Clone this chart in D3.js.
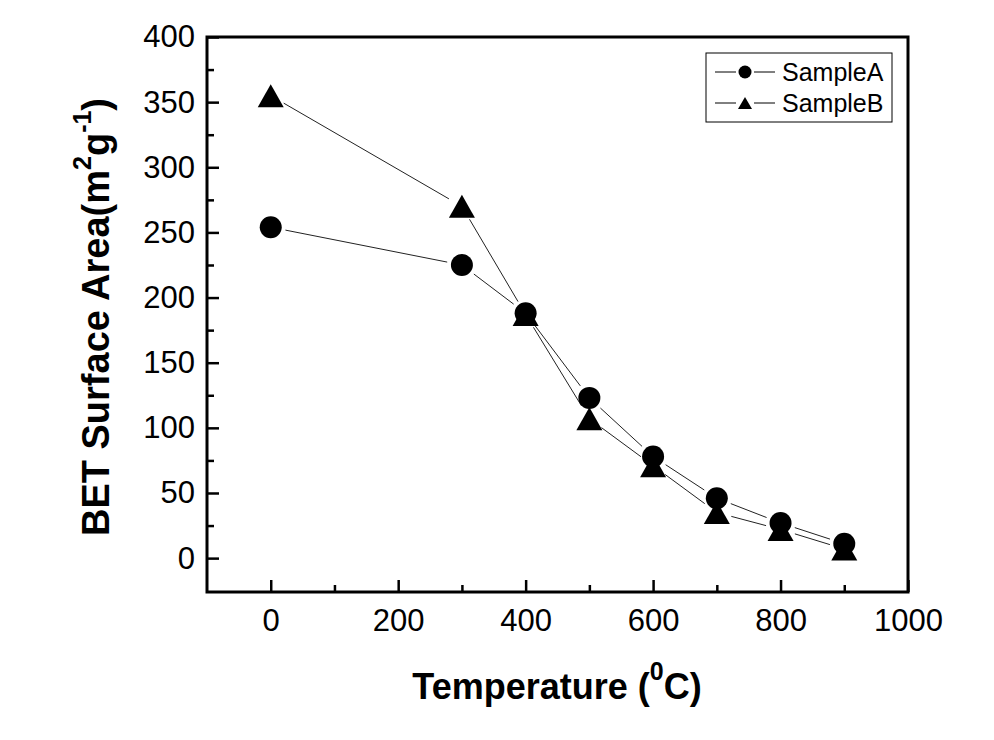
<!DOCTYPE html>
<html>
<head>
<meta charset="utf-8">
<script src="https://cdn.jsdelivr.net/npm/d3@7"></script>
<style>
  body { margin: 0; background: #fff; }
  svg { display: block; }
  text { font-family: "Liberation Sans", Arial, Helvetica, sans-serif; fill: #000; }
</style>
</head>
<body>
<svg id="chart" width="994" height="740"></svg>
<script>
// ---- data ----
const temperatures = [0, 300, 400, 500, 600, 700, 800, 900];
const sampleA = [254, 225, 188, 123, 78, 46, 27, 11];
const sampleB = [355, 270, 187, 107, 71, 35, 22, 7];
const seriesNames = ["SampleA", "SampleB"];
const xTicks = [0, 200, 400, 600, 800, 1000];
const xMinorTicks = [100, 300, 500, 700, 900];
const yTicks = [0, 50, 100, 150, 200, 250, 300, 350, 400];
const yMinorTicks = [25, 75, 125, 175, 225, 275, 325, 375];

const svg = d3.select("#chart");
svg.append("rect").attr("width", 994).attr("height", 740).attr("fill", "#fff");

const L = 207, R = 908, T = 37, B = 592;
const x = d3.scaleLinear().domain([-100, 1000]).range([L, R]);
const y = d3.scaleLinear().domain([-26, 400]).range([B, T]);

// ---- axes ----
const gx = svg.append("g").attr("transform", `translate(0,${B})`)
  .call(d3.axisBottom(x).tickValues(xTicks).tickSizeInner(-12).tickSizeOuter(0).tickPadding(17).tickFormat(d3.format("d")));
const gxm = svg.append("g").attr("transform", `translate(0,${B})`)
  .call(d3.axisBottom(x).tickValues(xMinorTicks).tickSizeInner(-7).tickSizeOuter(0).tickFormat(""));
const gy = svg.append("g").attr("transform", `translate(${L},0)`)
  .call(d3.axisLeft(y).tickValues(yTicks).tickSizeInner(-12).tickSizeOuter(0).tickPadding(12).tickFormat(d3.format("d")));
const gym = svg.append("g").attr("transform", `translate(${L},0)`)
  .call(d3.axisLeft(y).tickValues(yMinorTicks).tickSizeInner(-7).tickSizeOuter(0).tickFormat(""));

[gx, gxm, gy, gym].forEach(g => {
  g.select(".domain").remove();
  g.selectAll(".tick line").attr("stroke", "#000").attr("stroke-width", 2.5);
  g.selectAll(".tick text").style("font-size", "31px").attr("fill", "#000");
});

// frame
svg.append("rect").attr("x", L).attr("y", T).attr("width", R - L).attr("height", B - T)
  .attr("fill", "none").attr("stroke", "#000").attr("stroke-width", 3);

// ---- markers ----
const triPath = (w, h) => `M0,${-h/2}L${w/2},${h/2}L${-w/2},${h/2}Z`;

function drawSeries(values) {
  const pts = temperatures.map((t, i) => [x(t), y(values[i])]);
  const gap = 15;
  const g = svg.append("g");
  for (let i = 0; i < pts.length - 1; i++) {
    const [x1, y1] = pts[i], [x2, y2] = pts[i + 1];
    const len = Math.hypot(x2 - x1, y2 - y1);
    if (len <= 2 * gap) continue;
    const ux = (x2 - x1) / len, uy = (y2 - y1) / len;
    g.append("line")
      .attr("x1", x1 + ux * gap).attr("y1", y1 + uy * gap)
      .attr("x2", x2 - ux * gap).attr("y2", y2 - uy * gap)
      .attr("stroke", "#222").attr("stroke-width", 1);
  }
  return pts;
}

const ptsA = drawSeries(sampleA);
const ptsB = drawSeries(sampleB);

svg.append("g").selectAll("path").data(ptsB).join("path")
  .attr("transform", d => `translate(${d[0]},${d[1]})`)
  .attr("d", triPath(26, 23)).attr("fill", "#000");
svg.append("g").selectAll("circle").data(ptsA).join("circle")
  .attr("cx", d => d[0]).attr("cy", d => d[1]).attr("r", 11).attr("fill", "#000");

// ---- legend ----
const lg = svg.append("g");
lg.append("rect").attr("x", 706).attr("y", 53).attr("width", 186).attr("height", 69)
  .attr("fill", "#fff").attr("stroke", "#000").attr("stroke-width", 1);
const rows = [72, 103];
seriesNames.forEach((name, i) => {
  const cy = rows[i];
  lg.append("line").attr("x1", 715).attr("x2", 736).attr("y1", cy).attr("y2", cy).attr("stroke", "#000").attr("stroke-width", 1);
  lg.append("line").attr("x1", 754).attr("x2", 775).attr("y1", cy).attr("y2", cy).attr("stroke", "#000").attr("stroke-width", 1);
  if (i === 0) {
    lg.append("circle").attr("cx", 745).attr("cy", cy).attr("r", 6.5).attr("fill", "#000");
  } else {
    lg.append("path").attr("transform", `translate(745,${cy})`).attr("d", triPath(14, 12)).attr("fill", "#000");
  }
  lg.append("text").attr("x", 782).attr("y", cy + 9).style("font-size", "25px").text(name);
});

// ---- axis titles ----
const xt = svg.append("text").attr("x", 557).attr("y", 699).attr("text-anchor", "middle")
  .style("font-size", "36px").style("font-weight", "bold");
xt.append("tspan").text("Temperature (");
xt.append("tspan").attr("dy", -19).style("font-size", "25px").text("0");
xt.append("tspan").attr("dy", 19).text("C)");

const yt = svg.append("text").attr("transform", "translate(109,317) rotate(-90)").attr("text-anchor", "middle")
  .style("font-size", "38px").style("font-weight", "bold");
yt.append("tspan").text("BET Surface Area(m");
yt.append("tspan").attr("dy", -18).style("font-size", "25px").text("2");
yt.append("tspan").attr("dy", 18).text("g");
yt.append("tspan").attr("dy", -18).style("font-size", "25px").text("-1");
yt.append("tspan").attr("dy", 18).text(")");
</script>
</body>
</html>
